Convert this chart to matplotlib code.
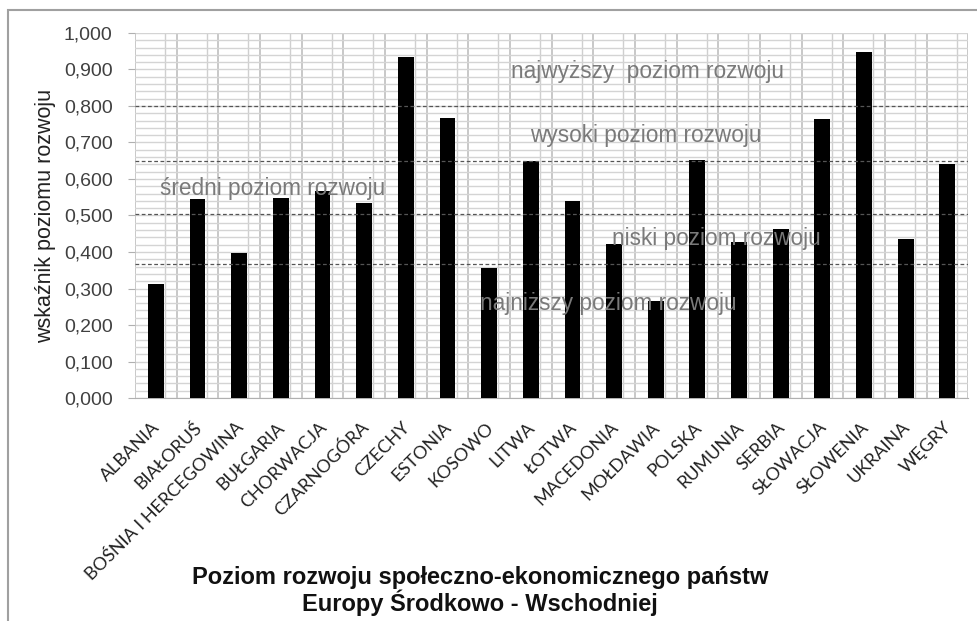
import matplotlib
matplotlib.use('Agg')
import matplotlib.pyplot as plt
import matplotlib.transforms as mtransforms
from matplotlib.patches import Rectangle
import numpy as np

plt.rcParams['font.family'] = ['Liberation Sans', 'DejaVu Sans']

# Wskaźnik poziomu rozwoju dla poszczególnych państw
countries = ['ALBANIA', 'BIAŁORUŚ', 'BOŚNIA I HERCEGOWINA', 'BUŁGARIA', 'CHORWACJA',
             'CZARNOGÓRA', 'CZECHY', 'ESTONIA', 'KOSOWO', 'LITWA', 'ŁOTWA',
             'MACEDONIA', 'MOŁDAWIA', 'POLSKA', 'RUMUNIA', 'SERBIA', 'SŁOWACJA',
             'SŁOWENIA', 'UKRAINA', 'WĘGRY']
index_values = [0.311, 0.544, 0.398, 0.548, 0.566, 0.533, 0.933, 0.767, 0.356, 0.650,
                0.540, 0.422, 0.266, 0.651, 0.427, 0.464, 0.764, 0.949, 0.435, 0.642]

# Progi między poziomami rozwoju
thresholds = [0.800, 0.650, 0.505, 0.367]

# Opisy poziomów: tekst, pozycja x (kategorie), pozycja y (wartość wskaźnika)
level_names = ['najwyższy  poziom rozwoju', 'wysoki poziom rozwoju',
               'średni poziom rozwoju', 'niski poziom rozwoju',
               'najniższy poziom rozwoju']
level_x = [8.53, 8.98, 0.10, 10.95, 7.78]
level_y = [0.893, 0.720, 0.575, 0.438, 0.260]

fig = plt.figure(figsize=(9.78, 6.21), dpi=100)
ax = fig.add_axes([0.138, 0.359, 0.852, 0.588])

x = np.arange(len(countries))
ax.bar(x, index_values, width=0.38, color='black', zorder=3)

ax.set_xlim(-0.5, len(countries) - 0.5)
ax.set_ylim(0, 1.0)

# Siatka pozioma co 0,02 i pionowa na granicach kategorii
ax.set_yticks(np.arange(0, 1.001, 0.1))
ax.set_yticks(np.arange(0, 1.001, 0.02), minor=True)
ax.set_yticklabels([f'{v:.3f}'.replace('.', ',') for v in np.arange(0, 1.001, 0.1)],
                   fontsize=14, color='#404040')
ax.tick_params(axis='y', which='major', length=5, color='#b0b0b0', pad=11)
ax.tick_params(axis='y', which='minor', length=0)
ax.grid(axis='y', which='both', color='#d4d4d4', linewidth=1.0, zorder=0)

for b in np.arange(-0.5, len(countries), 1.0):
    ax.axvline(b, color='#c4c4c4', linewidth=1.3, zorder=1)
for c in x:
    ax.axvline(c + 0.22, color='#cfcfcf', linewidth=1.0, zorder=1)

for t in thresholds:
    ax.axhline(t, color='#555555', linewidth=0.9, linestyle=(0, (3, 2)), zorder=4)

for name, lx, ly in zip(level_names, level_x, level_y):
    ax.text(lx, ly, name, fontsize=16.3, color='#7a7a7a', ha='left', va='center', zorder=5)

for s in ax.spines.values():
    s.set_visible(False)
ax.spines['bottom'].set_visible(True)
ax.spines['bottom'].set_color('#b0b0b0')

# Etykiety państw pod kątem 45 stopni
ax.set_xticks(x)
ax.set_xticklabels(countries, rotation=45, ha='right', va='top', rotation_mode='anchor',
                   fontsize=13, family=['Lato', 'DejaVu Sans'], color='#222222')
ax.tick_params(axis='x', length=0, pad=8)
offset = mtransforms.ScaledTranslation(-4 / 100, -10 / 100, fig.dpi_scale_trans)
for lbl in ax.get_xticklabels():
    lbl.set_transform(lbl.get_transform() + offset)

ax.set_ylabel('wskaźnik poziomu rozwoju', fontsize=15.5, color='#222222', labelpad=6)

fig.text(0.491, 0.048,
         'Poziom rozwoju społeczno-ekonomicznego państw\nEuropy Środkowo - Wschodniej',
         ha='center', va='center', fontsize=17, fontweight='bold', color='#111111',
         linespacing=1.05)

# Ramka wokół całego wykresu (prawa i dolna krawędź poza obrazem)
fig.patches.append(Rectangle((8 / 978, -0.05), 1.0, 1 - 10 / 621 + 0.05,
                             transform=fig.transFigure, fill=False,
                             edgecolor='#a0a0a0', linewidth=1.5))

fig.savefig('out.png', dpi=100, facecolor='white')
plt.close(fig)
